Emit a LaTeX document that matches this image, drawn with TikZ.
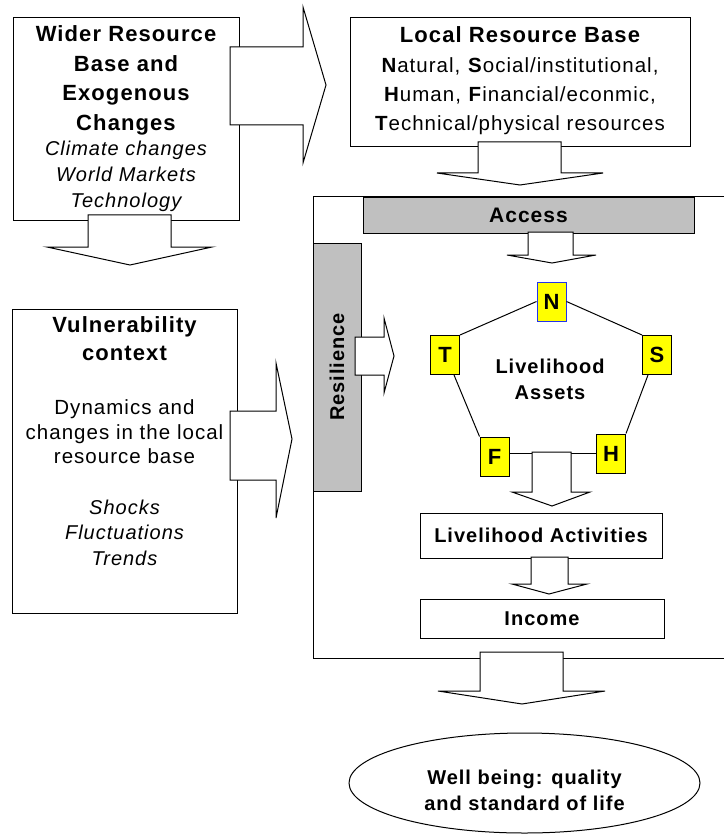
\documentclass[tikz,border=0pt]{standalone}
\usepackage{fontspec}
\setmainfont{Liberation Sans}[LetterSpace=5]
\usetikzlibrary{shapes.geometric}
\definecolor{bargray}{HTML}{C0C0C0}
\definecolor{assetyellow}{HTML}{FFFF00}
\definecolor{nblue}{HTML}{2233EE}
\begin{document}
\begin{tikzpicture}[x=1pt,y=-1pt,line width=1pt,
  box/.style={draw,fill=white,inner sep=0pt},
  grayBar/.style={draw,fill=bargray,inner sep=0pt},
  asset/.style={draw,fill=assetyellow,inner sep=0pt,minimum width=29pt,minimum height=39pt,font=\fontsize{22}{26}\selectfont\bfseries},
  blockarrow/.style={draw,fill=white,line join=miter},
  txt/.style={inner sep=0pt,align=center},
  headfont/.style={font=\fontsize{22}{29.7}\selectfont\bfseries},
  labfont/.style={font=\fontsize{20}{26}\selectfont\bfseries}
]
\useasboundingbox (0,0) rectangle (724,834);

% ---- main frame (open on the right) ----
\draw (724,197) -- (313,197) -- (313,658) -- (724,658);

% ---- boxes ----
\node[box,minimum width=226pt,minimum height=203pt] (wider) at (126,119.5) {};
\node[box,minimum width=340pt,minimum height=129pt] (local) at (520,82.5) {};
\node[box,minimum width=225pt,minimum height=304pt] (vuln) at (124.5,461) {};
\node[grayBar,minimum width=331pt,minimum height=35pt,font=\fontsize{21}{26}\selectfont\bfseries] (access) at (528.5,215.5) {Access};
\node[grayBar,minimum width=48pt,minimum height=248pt] (resil) at (337,367) {};
\node[labfont,rotate=90,inner sep=0pt] (resiltxt) at (resil.center) {Resilience};
\node[box,minimum width=242pt,minimum height=45pt,labfont] (activ) at (541,535.5) {Livelihood Activities};
\node[box,minimum width=244pt,minimum height=39pt,labfont] (income) at (542,618.5) {Income};
\node[draw,ellipse,fill=white,inner sep=0pt,minimum width=351pt,minimum height=100pt] (well) at (524.5,783) {};
\node[txt,labfont] (welltxt) at (524.5,790.5) {Well being: quality\\and standard of life};

% ---- texts ----
\node[txt,headfont] (widerhead) at (126,80.5) {Wider Resource\\Base and\\Exogenous\\Changes};
\node[txt,font=\fontsize{20}{26}\selectfont\itshape] (widerlist) at (126,176.8) {Climate changes\\World Markets\\Technology};
\node[txt,headfont] (localhead) at (520,35) {Local Resource Base};
\node[txt,font=\fontsize{20.5}{29}\selectfont] (locallist) at (520,96.5)
  {\textbf{N}atural, \textbf{S}ocial/institutional,\\\textbf{H}uman, \textbf{F}inancial/econmic,\\\textbf{T}echnical/physical resources};
\node[txt,font=\fontsize{22}{28}\selectfont\bfseries] (vulnhead) at (124.5,339) {Vulnerability\\context};
\node[txt,font=\fontsize{20.5}{24.5}\selectfont] (vulnbody) at (124.5,431.7) {Dynamics and\\changes in the local\\resource base};
\node[txt,font=\fontsize{20}{25.5}\selectfont\itshape] (vulnlist) at (124.5,532.7) {Shocks\\Fluctuations\\Trends};

% ---- block arrows ----
% wider -> local
\draw[blockarrow] (230,47) -- (303,47) -- (303,7) -- (326,85) -- (303,163) -- (303,125) -- (230,125) -- cycle;
% wider -> vulnerability
\draw[blockarrow] (88,215) -- (171,215) -- (171,247) -- (212,247) -- (130,265) -- (47,247) -- (88,247) -- cycle;
% local -> frame
\draw[blockarrow] (478,142) -- (561,142) -- (561,173) -- (603,173) -- (520,185) -- (437,173) -- (478,173) -- cycle;
% access -> assets
\draw[blockarrow] (528,232) -- (573,232) -- (573,255) -- (596,255) -- (552,263) -- (507,255) -- (528,255) -- cycle;
% resilience -> assets
\draw[blockarrow] (355,337) -- (384,337) -- (384,318) -- (394,356) -- (384,393) -- (384,375) -- (355,375) -- cycle;
% vulnerability -> frame
\draw[blockarrow] (230,411) -- (276,411) -- (276,363) -- (292,439) -- (276,518) -- (276,480) -- (230,480) -- cycle;

% ---- livelihood assets pentagon ----
\node[asset,draw=nblue] (N) at (551.5,301.5) {N};
\node[asset] (T) at (445,355) {T};
\node[asset] (S) at (657,355) {S};
\node[asset] (F) at (494.5,456.5) {F};
\node[asset] (H) at (611,453.5) {H};
\draw (N.west) -- (T.north east);
\draw (N.east) -- (S.north west);
\draw ([xshift=-6pt]T.south east) -- (F.north west);
\draw ([xshift=6pt]S.south west) -- (H.north east);
\draw (H.west) -- (H.west -| F.east);
\node[txt,font=\fontsize{20}{26}\selectfont\bfseries] (assets) at (550,379) {Livelihood\\Assets};

% assets -> activities
\draw[blockarrow] (532,452) -- (571,452) -- (571,492) -- (590,492) -- (552,506) -- (512,492) -- (532,492) -- cycle;
% activities -> income
\draw[blockarrow] (531,557) -- (568,557) -- (568,584) -- (587,584) -- (549,594) -- (512,584) -- (531,584) -- cycle;
% frame -> well being
\draw[blockarrow] (480,652) -- (563,652) -- (563,691) -- (605,691) -- (522,704) -- (438,691) -- (480,691) -- cycle;
\end{tikzpicture}
\end{document}
